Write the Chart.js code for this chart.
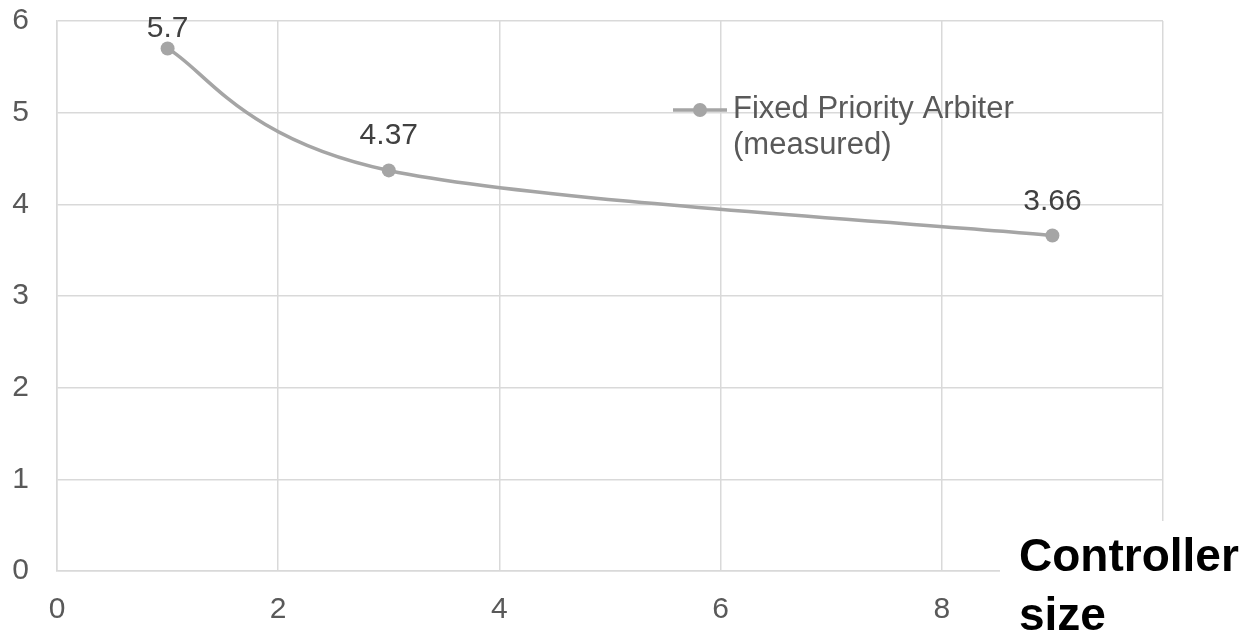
<!DOCTYPE html>
<html>
<head>
<meta charset="utf-8">
<title>Fixed Priority Arbiter (measured)</title>
<script src="https://cdn.jsdelivr.net/npm/chart.js@4.4.1/dist/chart.umd.min.js"></script>
<style>
  html, body { margin: 0; padding: 0; background: #ffffff; }
  #wrap { width: 1253px; height: 639px; position: relative; }
</style>
</head>
<body>
<div id="wrap"><canvas id="chart"></canvas></div>
<script>
// Measured values per controller size
const controllerSize = [1, 3, 9];
const measuredValues = [5.7, 4.37, 3.66];
const seriesLabel = 'Fixed Priority Arbiter (measured)';
const legendLines = ['Fixed Priority Arbiter', '(measured)'];
const xAxisTitle = ['Controller', 'size'];
const xTickStep = 2;
const yTickStep = 1;
const xRange = [0, 10];
const yRange = [0, 6];

const FONT = '"Liberation Sans", Arial, Helvetica, sans-serif';
const TICK_COLOR = '#595959';
const GRID_COLOR = '#d9d9d9';
const SERIES_COLOR = '#a5a5a5';

// Smoothed line: control points at 1/6 of the neighbour span (end points use themselves)
const smoothLine = {
  id: 'smoothLine',
  beforeDatasetDraw(chart, args) {
    const meta = args.meta;
    const line = meta.dataset;
    if (!line) return;
    if (typeof line.updateControlPoints === 'function') {
      line.updateControlPoints(chart.chartArea, 'x');
    }
    const pts = meta.data;
    const n = pts.length;
    for (let i = 0; i < n; i++) {
      const p = pts[i];
      const prev = pts[Math.max(i - 1, 0)];
      const next = pts[Math.min(i + 1, n - 1)];
      const dx = (next.x - prev.x) / 6;
      const dy = (next.y - prev.y) / 6;
      p.cp1x = p.x - dx; p.cp1y = p.y - dy;
      p.cp2x = p.x + dx; p.cp2y = p.y + dy;
    }
    line._path = undefined;
  }
};

// Value labels above each point
const valueLabels = {
  id: 'valueLabels',
  afterDatasetsDraw(chart) {
    const ctx = chart.ctx;
    const meta = chart.getDatasetMeta(0);
    const ds = chart.data.datasets[0];
    const top = chart.chartArea.top;
    ctx.save();
    ctx.font = '30px ' + FONT;
    ctx.fillStyle = '#404040';
    ctx.textAlign = 'center';
    ctx.textBaseline = 'alphabetic';
    meta.data.forEach((p, i) => {
      const y = Math.max(p.y - 26, top + 16);
      ctx.fillText(String(ds.data[i].y), p.x, y);
    });
    ctx.restore();
  }
};

// Legend placed inside the plot area
const innerLegend = {
  id: 'innerLegend',
  afterDatasetsDraw(chart) {
    const ctx = chart.ctx;
    const ds = chart.data.datasets[0];
    const a = chart.chartArea;
    const x0 = a.left + 616;
    const yMid = a.top + 89;
    ctx.save();
    ctx.strokeStyle = ds.borderColor;
    ctx.lineWidth = ds.borderWidth;
    ctx.beginPath();
    ctx.moveTo(x0, yMid);
    ctx.lineTo(x0 + 54, yMid);
    ctx.stroke();
    ctx.fillStyle = ds.pointBackgroundColor;
    ctx.beginPath();
    ctx.arc(x0 + 27, yMid, ds.pointRadius, 0, Math.PI * 2);
    ctx.fill();
    ctx.font = '31px ' + FONT;
    ctx.fillStyle = TICK_COLOR;
    ctx.textAlign = 'left';
    ctx.textBaseline = 'alphabetic';
    legendLines.forEach((t, i) => ctx.fillText(t, x0 + 60, yMid + 8 + i * 36));
    ctx.restore();
  }
};

// Axis title in the lower-right corner on a white panel
const cornerTitle = {
  id: 'cornerTitle',
  afterDraw(chart) {
    const ctx = chart.ctx;
    const a = chart.chartArea;
    const bx = a.right - 163;
    const by = a.bottom - 50;
    ctx.save();
    ctx.fillStyle = '#ffffff';
    ctx.fillRect(bx, by, chart.width - bx, chart.height - by);
    ctx.font = 'bold 46px ' + FONT;
    ctx.fillStyle = '#000000';
    ctx.textAlign = 'left';
    ctx.textBaseline = 'alphabetic';
    xAxisTitle.forEach((t, i) => ctx.fillText(t, bx + 19, a.bottom + i * 59));
    ctx.restore();
  }
};

const points = controllerSize.map((x, i) => ({ x: x, y: measuredValues[i] }));

new Chart(document.getElementById('chart'), {
  type: 'line',
  data: {
    datasets: [{
      label: seriesLabel,
      data: points,
      borderColor: SERIES_COLOR,
      borderWidth: 3.5,
      pointBackgroundColor: SERIES_COLOR,
      pointBorderWidth: 0,
      pointRadius: 7,
      tension: 0.4,
      fill: false
    }]
  },
  options: {
    responsive: true,
    maintainAspectRatio: false,
    animation: false,
    layout: { padding: { left: 0, right: 90, top: 21, bottom: 0 } },
    plugins: {
      legend: { display: false },
      tooltip: { enabled: false }
    },
    scales: {
      x: {
        type: 'linear',
        min: xRange[0],
        max: xRange[1],
        title: { display: false, text: xAxisTitle.join(' ') },
        ticks: { stepSize: xTickStep, color: TICK_COLOR, font: { family: FONT, size: 30 }, padding: 21, maxRotation: 0 },
        grid: { color: GRID_COLOR, lineWidth: 1.5, drawTicks: false },
        border: { color: GRID_COLOR, width: 1.5 },
        afterFit(scale) {
          scale.height = 68;
          scale.paddingLeft = 0;
          scale.paddingRight = 0;
        }
      },
      y: {
        min: yRange[0],
        max: yRange[1],
        ticks: { stepSize: yTickStep, color: TICK_COLOR, font: { family: FONT, size: 30 }, padding: 28 },
        grid: { color: GRID_COLOR, lineWidth: 1.5, drawTicks: false },
        border: { color: GRID_COLOR, width: 1.5 },
        afterFit(scale) {
          scale.width = 57;
          scale.paddingTop = 0;
          scale.paddingBottom = 0;
        }
      }
    }
  },
  plugins: [smoothLine, innerLegend, valueLabels, cornerTitle]
});
</script>
</body>
</html>
